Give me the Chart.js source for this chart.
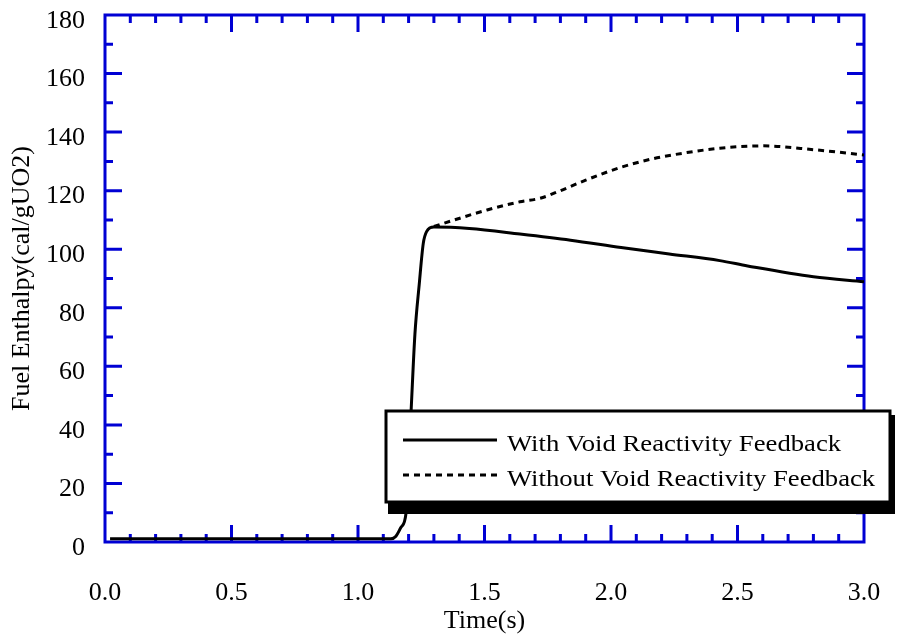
<!DOCTYPE html>
<html>
<head>
<meta charset="utf-8">
<script src="https://cdn.jsdelivr.net/npm/chart.js@4.4.1/dist/chart.umd.min.js"></script>
<style>
  html, body { margin: 0; padding: 0; background: #fff; }
  #wrap { width: 902px; height: 643px; }
</style>
</head>
<body>
<div id="wrap"><canvas id="enthalpy"></canvas></div>
<script>
// fuel enthalpy vs time
const timeWith = [0.02, 1.13, 1.15, 1.17, 1.19, 1.21, 1.225, 1.242, 1.258, 1.271, 1.30, 1.44, 1.64, 1.84, 2.04, 2.23, 2.43, 2.54, 2.80, 3.0];
const enthalpyWith = [1.1, 1.1, 2, 5, 10, 45, 71, 88, 102, 106, 107.6, 107.1, 105.2, 103.1, 100.6, 98.4, 96.1, 94.3, 90.6, 88.9];

const timeWithout = [1.30, 1.51, 1.64, 1.72, 1.80, 1.90, 2.04, 2.17, 2.30, 2.43, 2.60, 2.80, 3.0];
const enthalpyWithout = [107.8, 113.4, 116.2, 117.4, 120.0, 123.6, 128.0, 131.0, 133.0, 134.5, 135.3, 134.0, 132.2];

const legendLabels = ['With Void Reactivity Feedback', 'Without Void Reactivity Feedback'];
const xTitle = 'Time(s)';
const yTitle = 'Fuel Enthalpy(cal/gUO2)';

const blue = '#0000d4';
const serif = "'Liberation Serif', 'Times New Roman', serif";

function toPoints(xs, ys) {
    let pts = [];
    for (let i = 0; i < xs.length; i++) {
        pts.push({x: xs[i], y: ys[i]});
    }
    return pts;
}

// frame + inward ticks on all four sides
const framePlugin = {
    id: 'frame',
    beforeDatasetsDraw(chart) {
        const ctx = chart.ctx;
        const xs = chart.scales.x, ys = chart.scales.y;
        const a = chart.chartArea;
        ctx.save();
        ctx.strokeStyle = blue;
        ctx.lineWidth = 3;
        ctx.strokeRect(a.left, a.top, a.right - a.left, a.bottom - a.top);
        ctx.beginPath();
        for (let i = 1; i < 30; i++) {
            const px = xs.getPixelForValue(i / 10);
            const len = (i % 5 === 0) ? 17 : 8;
            ctx.moveTo(px, a.bottom); ctx.lineTo(px, a.bottom - len);
            ctx.moveTo(px, a.top); ctx.lineTo(px, a.top + len);
        }
        for (let v = 10; v < 180; v += 10) {
            const py = ys.getPixelForValue(v);
            const len = (v % 20 === 0) ? 17 : 8;
            ctx.moveTo(a.left, py); ctx.lineTo(a.left + len, py);
            ctx.moveTo(a.right, py); ctx.lineTo(a.right - len, py);
        }
        ctx.stroke();
        ctx.restore();
    },
    afterDraw(chart) {
        // boxed legend with drop shadow
        const ctx = chart.ctx;
        const bx = 386, by = 411, bw = 504, bh = 91;
        ctx.save();
        ctx.fillStyle = '#000';
        ctx.fillRect(bx + 2, by + 4, bw + 3, bh + 8);
        ctx.fillStyle = '#fff';
        ctx.fillRect(bx, by, bw, bh);
        ctx.strokeStyle = '#000';
        ctx.lineWidth = 3;
        ctx.strokeRect(bx, by, bw, bh);

        ctx.beginPath();
        ctx.moveTo(403, 440); ctx.lineTo(497, 440);
        ctx.stroke();
        ctx.setLineDash([6, 5]);
        ctx.beginPath();
        ctx.moveTo(403, 475); ctx.lineTo(497, 475);
        ctx.stroke();
        ctx.setLineDash([]);

        ctx.fillStyle = '#000';
        ctx.font = '23px ' + serif;
        ctx.textBaseline = 'alphabetic';
        ctx.translate(507, 0);
        ctx.scale(1.16, 1);
        ctx.fillText(legendLabels[0], 0, 451);
        ctx.fillText(legendLabels[1], 0, 486);
        ctx.restore();
    }
};

const ctx = document.getElementById('enthalpy');
const chart = new Chart(ctx, {
    type: 'line',
    data: {
        datasets: [
            {
                label: legendLabels[0],
                data: toPoints(timeWith, enthalpyWith),
                borderColor: '#000',
                borderWidth: 3,
                pointRadius: 0,
                fill: false,
                cubicInterpolationMode: 'monotone',
                order: 1
            },
            {
                label: legendLabels[1],
                data: toPoints(timeWithout, enthalpyWithout),
                borderColor: '#000',
                borderWidth: 3,
                borderDash: [6, 5],
                pointRadius: 0,
                fill: false,
                cubicInterpolationMode: 'monotone',
                order: 2
            }
        ]
    },
    options: {
        responsive: true,
        maintainAspectRatio: false,
        animation: false,
        layout: { padding: { left: 0, right: 38, top: 15, bottom: 0 } },
        plugins: {
            legend: { display: false },
            tooltip: { enabled: false }
        },
        scales: {
            x: {
                type: 'linear',
                min: 0,
                max: 3,
                grid: { display: false, drawTicks: false },
                border: { display: false },
                ticks: {
                    stepSize: 0.5,
                    padding: 36,
                    color: '#000',
                    maxRotation: 0,
                    font: { family: serif, size: 26 },
                    callback: function(v) { return v.toFixed(1); }
                },
                title: {
                    display: true,
                    text: xTitle,
                    color: '#000',
                    font: { family: serif, size: 26 },
                    padding: { top: 0, bottom: 6 }
                },
                afterFit: function(s) {
                    s.height = 101;
                    s.paddingLeft = 0; s.paddingRight = 0;
                }
            },
            y: {
                min: 0,
                max: 180,
                grid: { display: false, drawTicks: false },
                border: { display: false },
                ticks: {
                    stepSize: 20,
                    padding: 20,
                    labelOffset: 6,
                    color: '#000',
                    font: { family: serif, size: 26 }
                },
                title: {
                    display: true,
                    text: yTitle,
                    color: '#000',
                    font: { family: serif, size: 26 },
                    padding: { top: 7, bottom: 0 }
                },
                afterFit: function(s) {
                    s.width = 105;
                    s.paddingTop = 0; s.paddingBottom = 0;
                }
            }
        }
    },
    plugins: [framePlugin]
});
</script>
</body>
</html>
